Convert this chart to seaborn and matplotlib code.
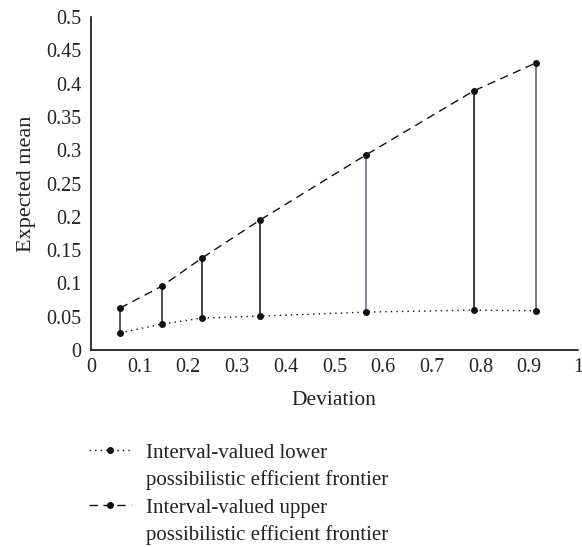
import matplotlib
matplotlib.use("Agg")
import matplotlib.pyplot as plt
from matplotlib.lines import Line2D
import seaborn as sns
import pandas as pd

deviation = [0.060, 0.146, 0.228, 0.347, 0.565, 0.786, 0.914]
upper_mean = [0.063, 0.096, 0.138, 0.195, 0.293, 0.389, 0.431]
lower_mean = [0.026, 0.039, 0.048, 0.051, 0.057, 0.060, 0.059]
seg_colors = ["#333333", "#333333", "#222222", "#222222", "#7a6890", "#1a1a1a", "#666666"]
x_ticks = [0, 0.1, 0.2, 0.3, 0.4, 0.5, 0.6, 0.7, 0.8, 0.9, 1]
x_labels = ["0", "0.1", "0.2", "0.3", "0.4", "0.5", "0.6", "0.7", "0.8", "0.9", "1"]
y_ticks = [0, 0.05, 0.1, 0.15, 0.2, 0.25, 0.3, 0.35, 0.4, 0.45, 0.5]
y_labels = ["0", "0.05", "0.1", "0.15", "0.2", "0.25", "0.3", "0.35", "0.4", "0.45", "0.5"]
lower_name = ["Interval-valued lower", "possibilistic efficient frontier"]
upper_name = ["Interval-valued upper", "possibilistic efficient frontier"]

sns.set_theme(style="white")
plt.rcParams["font.family"] = ["Liberation Serif", "DejaVu Serif"]

df = pd.DataFrame({"Deviation": deviation, "upper": upper_mean, "lower": lower_mean})

fig = plt.figure(figsize=(5.82, 5.47), dpi=100)
ax = fig.add_axes([0.156, 0.36, 0.837, 0.609])

ax.vlines(df["Deviation"], df["lower"], df["upper"], colors=seg_colors, linewidth=1.2, zorder=2)
sns.lineplot(data=df, x="Deviation", y="lower", ax=ax, color="#111111", linestyle=(0, (1, 3)),
             linewidth=1.0, marker="o", markersize=6, markeredgewidth=0, label=lower_name[0], zorder=3)
sns.lineplot(data=df, x="Deviation", y="upper", ax=ax, color="#111111", linestyle=(0, (6, 4)),
             linewidth=1.0, marker="o", markersize=6, markeredgewidth=0, label=upper_name[0], zorder=3)

ax.set_xlim(0, 1)
ax.set_ylim(0, 0.5)
ax.set_xticks(x_ticks)
ax.set_xticklabels(x_labels)
ax.set_yticks(y_ticks)
ax.set_yticklabels(y_labels)
ax.tick_params(axis="x", labelsize=14.5, length=0, pad=6, colors="#222222")
ax.tick_params(axis="y", labelsize=14.5, length=0, pad=7, colors="#222222")
ax.set_xlabel("Deviation", fontsize=15.5, color="#222222", labelpad=10)
ax.set_ylabel("Expected mean", fontsize=16, color="#222222", labelpad=7)
for s in ["top", "right"]:
    ax.spines[s].set_visible(False)
for s in ["left", "bottom"]:
    ax.spines[s].set_color("#111111")
    ax.spines[s].set_linewidth(1.2)

handles, labels = ax.get_legend_handles_labels()
for h in handles:
    h.set_markersize(5)
blank = Line2D([], [], linestyle="none", marker="none")
leg_handles = [handles[0], blank, handles[1], blank]
leg_labels = [lower_name[0], lower_name[1], upper_name[0], upper_name[1]]
leg = ax.legend(leg_handles, leg_labels, loc="upper left", bbox_to_anchor=(0.153, 0.19),
                bbox_transform=fig.transFigure, frameon=False, fontsize=15,
                handlelength=2.0, handletextpad=0.75, labelspacing=0.37, labelcolor="#222222",
                borderpad=0, borderaxespad=0)

fig.savefig("out.png", dpi=100)
